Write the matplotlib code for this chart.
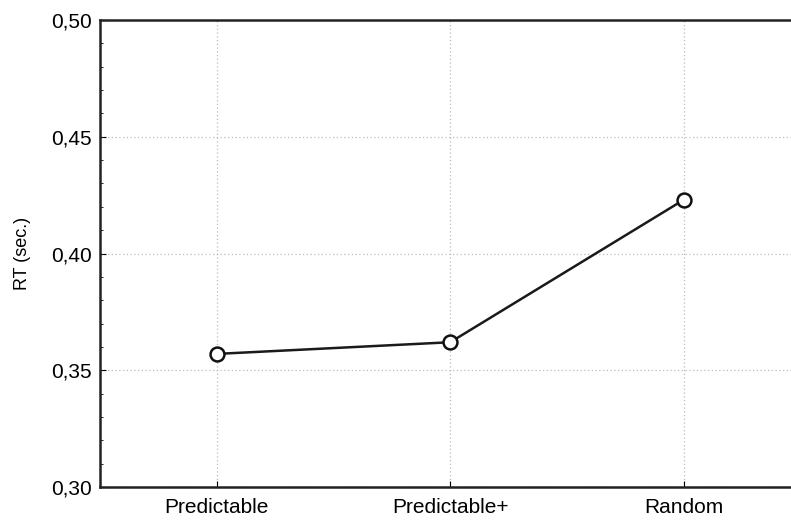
import matplotlib
matplotlib.use("Agg")
import matplotlib.pyplot as plt
from matplotlib.ticker import MultipleLocator, FuncFormatter

conditions = ["Predictable", "Predictable+", "Random"]
rt_sec = [0.357, 0.362, 0.423]
y_ticks = [0.30, 0.35, 0.40, 0.45, 0.50]

plt.rcParams["font.family"] = ["Liberation Sans", "DejaVu Sans"]

fig = plt.figure(figsize=(7.91, 5.24), dpi=100)
ax = fig.add_axes([0.1264, 0.0706, 0.8856, 0.8912])

x = list(range(len(conditions)))
ax.plot(x, rt_sec, color="#1a1a1a", linewidth=1.8, marker="o", markersize=10,
        markerfacecolor="white", markeredgecolor="#111111", markeredgewidth=1.8, zorder=3)

ax.set_xlim(-0.5, len(conditions) - 0.5)
ax.set_ylim(0.30, 0.50)
ax.set_xticks(x)
ax.set_xticklabels(conditions, fontsize=15)
ax.set_yticks(y_ticks)
ax.yaxis.set_major_formatter(FuncFormatter(lambda v, p: f"{v:.2f}".replace(".", ",")))
ax.yaxis.set_minor_locator(MultipleLocator(0.01))
ax.tick_params(axis="y", which="major", direction="in", length=4, labelsize=15, pad=6)
ax.tick_params(axis="y", which="minor", direction="in", length=2)
ax.tick_params(axis="x", which="major", direction="in", length=4, pad=8)

ax.grid(True, which="major", linestyle=(0, (1, 2)), color="#bbbbbb", linewidth=0.9)
for s in ax.spines.values():
    s.set_linewidth(1.8)
    s.set_color("#222222")
ax.spines["right"].set_visible(False)

ax.set_ylabel("RT (sec.)", fontsize=13, labelpad=14)

fig.savefig("out.png", dpi=100)
